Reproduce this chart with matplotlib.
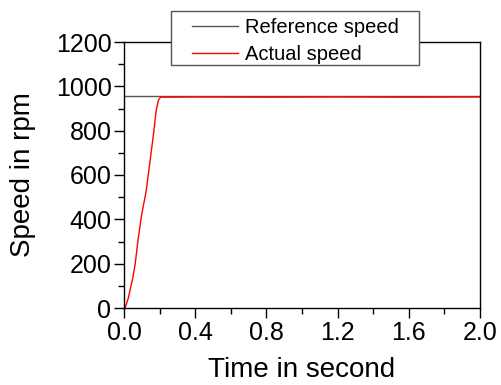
import numpy as np
import matplotlib.pyplot as plt
from matplotlib.patches import Rectangle
from matplotlib.ticker import MultipleLocator

plt.rcParams['font.family'] = ['Liberation Sans', 'DejaVu Sans']

# reference speed (constant set point)
t_ref = [0.0, 2.0]
ref_speed = [955, 955]

# measured motor speed during start-up
t_act = [0.006, 0.024, 0.049, 0.062, 0.080, 0.099, 0.124, 0.146, 0.165,
         0.180, 0.193, 0.206, 0.22, 0.4, 0.8, 1.2, 1.6, 2.0]
act_speed = [0, 44, 134, 194, 314, 420, 525, 660, 780,
             885, 938, 952, 951, 952, 951, 952, 951, 952]

W, H = 501, 385
fig = plt.figure(figsize=(W / 100, H / 100), dpi=100)
ax = fig.add_axes([124 / W, 1 - 308 / H, 356 / W, 266 / H])

ax.plot(t_ref, ref_speed, color='#555555', lw=1.0, label='Reference speed')
ax.plot(t_act, act_speed, color='red', lw=1.0, label='Actual speed')

ax.set_xlim(0, 2.0)
ax.set_ylim(0, 1200)
ax.xaxis.set_major_locator(MultipleLocator(0.4))
ax.xaxis.set_minor_locator(MultipleLocator(0.2))
ax.yaxis.set_major_locator(MultipleLocator(200))
ax.yaxis.set_minor_locator(MultipleLocator(100))
ax.xaxis.set_major_formatter(plt.FuncFormatter(lambda v, p: f'{v:.1f}'))
ax.tick_params(which='major', direction='out', length=7, width=1, labelsize=18, pad=2)
ax.tick_params(which='minor', direction='out', length=4, width=1)
for s in ax.spines.values():
    s.set_linewidth(1)

ax.set_xlabel('Time in second', fontsize=20, labelpad=9)
ax.set_ylabel('Speed in rpm', fontsize=20, labelpad=14)

# legend box sits over the top spine, wider side padding than matplotlib gives
box = Rectangle((171 / W, 1 - 65 / H), 248 / W, 54 / H, transform=fig.transFigure,
                facecolor='white', edgecolor='#555555', lw=1, zorder=3)
fig.patches.append(box)

leg = fig.legend(loc='upper left', bbox_to_anchor=(192 / W, 1 - 18 / H), fontsize=14.5,
                 frameon=False, handlelength=2.3, handletextpad=0.35,
                 labelspacing=0.38, borderpad=0, borderaxespad=0)
leg.set_zorder(5)

fig.savefig('out.png', dpi=100)
